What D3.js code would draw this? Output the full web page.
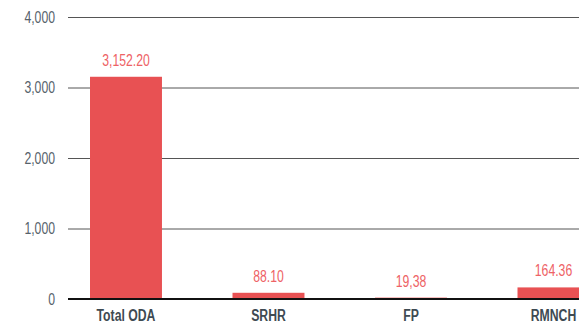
<!DOCTYPE html>
<html>
<head>
<meta charset="utf-8">
<script src="https://cdn.jsdelivr.net/npm/d3@7"></script>
<style>
  html, body { margin: 0; padding: 0; background: #fff; }
  svg { display: block; }
  text { font-family: "Liberation Sans", Arial, sans-serif; }
</style>
</head>
<body>
<svg id="chart" width="579" height="325"></svg>
<script>
// Funding categories and their values
const categories = ["Total ODA", "SRHR", "FP", "RMNCH"];
const values = [3152.20, 88.10, 19.38, 164.36];
const valueLabels = ["3,152.20", "88.10", "19,38", "164.36"];
const yTicks = [0, 1000, 2000, 3000, 4000];

const svg = d3.select("#chart");
const x0 = 68, yTop = 17, yBase = 299;
const squeeze = 0.72; // horizontal condensing of all type

const x = d3.scaleBand()
  .domain(categories)
  .range([x0, x0 + 142.5 * (4 - 0.495 + 2 * 0.1544)])
  .paddingInner(0.495)
  .paddingOuter(0.1544);

const y = d3.scaleLinear().domain([0, 4000]).range([yBase, yTop]);

// Gridlines and y tick labels
const yAxis = d3.axisLeft(y)
  .tickValues(yTicks)
  .tickSize(-(x.range()[1] - x0))
  .tickFormat(d3.format(","));

const gy = svg.append("g").attr("transform", `translate(${x0},0)`).call(yAxis);
gy.select(".domain").remove();
gy.selectAll(".tick line").attr("stroke", "#555").attr("stroke-width", 1);
gy.selectAll(".tick text")
  .attr("x", -13 / squeeze)
  .attr("transform", `scale(${squeeze},1)`)
  .attr("fill", "#56626b")
  .style("font-size", "17px");

// Bars
svg.append("g").selectAll("rect")
  .data(categories)
  .join("rect")
  .attr("x", d => x(d))
  .attr("width", x.bandwidth())
  .attr("y", (d, i) => y(values[i]))
  .attr("height", (d, i) => yBase - y(values[i]))
  .attr("fill", "#e85153");

// Baseline
svg.append("line")
  .attr("x1", x0).attr("x2", x.range()[1])
  .attr("y1", yBase).attr("y2", yBase)
  .attr("stroke", "#111").attr("stroke-width", 2);

// Value labels
svg.append("g").selectAll("text")
  .data(categories)
  .join("text")
  .attr("transform", (d, i) =>
    `translate(${x(d) + x.bandwidth() / 2},${y(values[i]) - 11}) scale(${squeeze},1)`)
  .attr("text-anchor", "middle")
  .attr("fill", "#ee6265")
  .style("font-size", "17px")
  .text((d, i) => valueLabels[i]);

// Category labels
const xAxis = d3.axisBottom(x).tickSize(0).tickPadding(10);
const gx = svg.append("g").attr("transform", `translate(0,${yBase})`).call(xAxis);
gx.select(".domain").remove();
gx.selectAll(".tick text")
  .attr("transform", `scale(${squeeze},1)`)
  .attr("fill", "#3e4a52")
  .style("font-size", "17px")
  .style("font-weight", "bold");
</script>
</body>
</html>
